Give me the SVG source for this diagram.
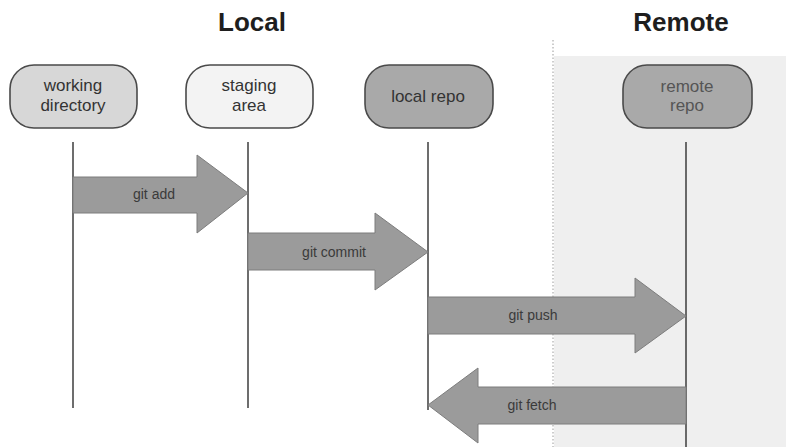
<svg xmlns="http://www.w3.org/2000/svg" width="786" height="447" viewBox="0 0 786 447">
  <style>
    .title { font-family: "Liberation Sans", Arial, sans-serif; font-weight: bold; font-size: 26px; fill: #1e1e1e; text-anchor: middle; }
    .node rect { stroke: #4a4a4a; stroke-width: 1.6; }
    .node text { font-family: "Liberation Sans", Arial, sans-serif; font-size: 17px; fill: #333; text-anchor: middle; }
    .life { stroke: #3c3c3c; stroke-width: 1.5; fill: none; }
    .arrow { fill: #9b9b9b; stroke: #7d7d7d; stroke-width: 1; }
    .label { font-family: "Liberation Sans", Arial, sans-serif; font-size: 14px; fill: #3a3a3a; text-anchor: middle; }
  </style>

  <rect width="786" height="447" fill="#ffffff"/>

  <!-- remote zone -->
  <rect x="554" y="56" width="232" height="391" fill="#efefef"/>
  <line x1="553" y1="40" x2="553" y2="447" stroke="#9a9a9a" stroke-width="1" stroke-dasharray="1.5,2"/>

  <text class="title" x="252" y="31">Local</text>
  <text class="title" x="681" y="31">Remote</text>

  <g id="working-directory" class="node">
    <rect x="10" y="65" width="127" height="63" rx="24" fill="#d7d7d7"/>
    <text x="73" y="91">working</text>
    <text x="73" y="111">directory</text>
  </g>

  <g id="staging-area" class="node">
    <rect x="186" y="65" width="127" height="63" rx="24" fill="#f3f3f3"/>
    <text x="249" y="91">staging</text>
    <text x="249" y="111">area</text>
  </g>

  <g id="local-repo" class="node">
    <rect x="365" y="65" width="128" height="63" rx="24" fill="#a9a9a9"/>
    <text x="428" y="102">local repo</text>
  </g>

  <g id="remote-repo" class="node">
    <rect x="623" y="65" width="129" height="63" rx="24" fill="#a9a9a9"/>
    <text x="687" y="92" style="fill:#555">remote</text>
    <text x="687" y="111" style="fill:#555">repo</text>
  </g>

  <g id="connectors">
    <line class="life" x1="73" y1="142" x2="73" y2="408"/>
    <line class="life" x1="248" y1="142" x2="248" y2="408"/>
    <line class="life" x1="428" y1="142" x2="428" y2="410"/>
    <line class="life" x1="686" y1="142" x2="686" y2="447"/>

    <polygon class="arrow" points="73,177 197,177 197,155 248,193 197,233 197,213 73,213"/>
    <text class="label" x="154" y="199">git add</text>

    <polygon class="arrow" points="248,233 375,233 375,213 428,252 375,290 375,270 248,270"/>
    <text class="label" x="334" y="257">git commit</text>

    <polygon class="arrow" points="428,297 635,297 635,278 686,316 635,353 635,334 428,334"/>
    <text class="label" x="533" y="320">git push</text>

    <polygon class="arrow" points="686,387 478,387 478,368 428,405 478,443 478,424 686,424"/>
    <text class="label" x="532" y="410">git fetch</text>
  </g>
</svg>
